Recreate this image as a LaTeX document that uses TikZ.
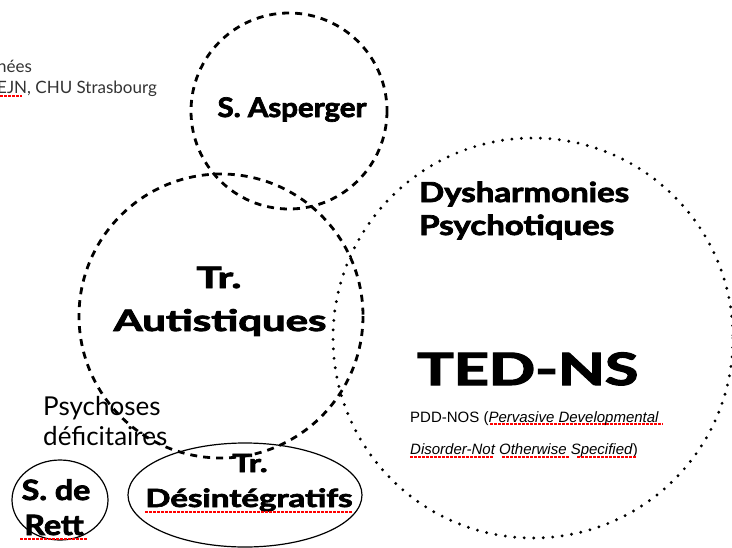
\documentclass[tikz,border=0pt]{standalone}
\usepackage{graphicx}
\usepackage{fontspec}
\setmainfont{Lato}
\newfontfamily\hvy{Lato}[UprightFeatures={FakeBold=2.6}, BoldFeatures={FakeBold=2.6}]
\newfontfamily\arialf{Liberation Sans}
\newcommand{\wide}[2]{\scalebox{#1}[1]{#2}}
\begin{document}
\begin{tikzpicture}[x=1pt,y=-1pt,
  dashc/.style={draw, line width=2.8pt, dash pattern=on 7pt off 6pt},
  dotc/.style={draw, line width=3.2pt, line cap=round, dash pattern=on 0pt off 9.5pt},
  solidc/.style={draw, line width=1.2pt},
  lbl/.style={inner sep=0pt, anchor=base},
  lbll/.style={inner sep=0pt, anchor=base west},
  spell/.style={draw=red, line width=1.3pt, dash pattern=on 2.5pt off 1.5pt}]
\useasboundingbox (0,0) rectangle (732,547);
\clip (0,0) rectangle (732,547);
% circles
\path[dashc] (289,111) circle (98);
\path[dashc] (221,316) circle (142);
\path[dotc] (533,338) circle (200);
\path[solidc] (60,500) ellipse (48 and 40);
\path[solidc] (245,495) ellipse (117 and 52);
% labels
\node[lbl, font=\hvy\bfseries\fontsize{27}{30}\selectfont] (asp) at (292,117) {\wide{1.09}{S. Asperger}};
\node[lbl, font=\hvy\bfseries\fontsize{29.5}{30}\selectfont] (aut1) at (219,288) {\wide{1.42}{Tr.}};
\node[lbl, font=\hvy\bfseries\fontsize{29.5}{30}\selectfont] (aut2) at (220,331) {\wide{1.42}{Autistiques}};
\node[lbll, font=\hvy\bfseries\fontsize{27.5}{30}\selectfont] (dys1) at (419,202) {\wide{1.2}{Dysharmonies}};
\node[lbll, font=\hvy\bfseries\fontsize{27.5}{30}\selectfont] (dys2) at (419,235) {\wide{1.2}{Psychotiques}};
\node[lbll, font=\hvy\bfseries\fontsize{44.5}{50}\selectfont] (ted) at (417,385) {\wide{1.37}{TED-NS}};
\node[lbll, font=\arialf\fontsize{15}{18}\selectfont] (pdd1) at (410,422) {PDD-NOS (\textit{Pervasive Developmental}};
\node[lbll, font=\arialf\fontsize{15}{18}\selectfont] (pdd2) at (410,454) {\textit{Disorder-Not Otherwise Specified})};
\node[lbll, font=\fontsize{26}{29}\selectfont] (psy1) at (43,415) {Psychoses};
\node[lbll, font=\fontsize{26}{29}\selectfont] (psy2) at (43,445) {déficitaires};
\node[lbl, font=\hvy\bfseries\fontsize{28}{30}\selectfont] (rett1) at (56,500) {\wide{1.15}{S. de}};
\node[lbl, font=\hvy\bfseries\fontsize{28}{30}\selectfont] (rett2) at (54,535) {\wide{1.15}{Rett}};
\node[lbl, font=\hvy\bfseries\fontsize{25}{30}\selectfont] (des1) at (250,472) {\wide{1.32}{Tr.}};
\node[lbl, font=\hvy\bfseries\fontsize{25}{30}\selectfont] (des2) at (249,507) {\wide{1.32}{Désintégratifs}};
% side text
\node[lbll, font=\fontsize{17}{20}\selectfont, text=black!80] (src1) at (-3,72) {nées};
\node[lbll, font=\fontsize{17}{20}\selectfont, text=black!80] (src2) at (-3,93) {EJN, CHU Strasbourg};
% spell-check underlines
\draw[spell] (490,424) -- (663,424);
\draw[spell] (410,457) -- (493,457) (502,457) -- (570,457) (577,457) -- (637,457);
\draw[spell] (145,512) -- (352,512);
\draw[spell] (20,539) -- (87,539);
\draw[spell] (0,96) -- (22,96);
\end{tikzpicture}
\end{document}
